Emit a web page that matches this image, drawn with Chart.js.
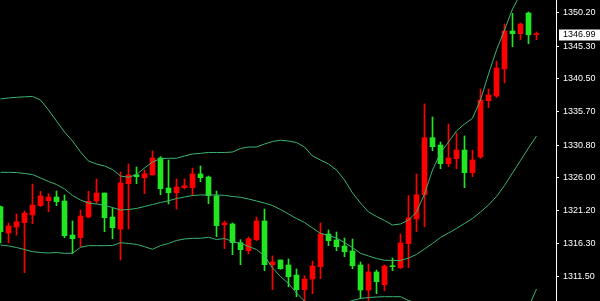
<!DOCTYPE html>
<html>
<head>
<meta charset="utf-8">
<script src="https://cdn.jsdelivr.net/npm/chart.js@4.4.1/dist/chart.umd.min.js"></script>
<style>
  html, body { margin: 0; padding: 0; background: #000; overflow: hidden; }
  #chart { display: block; background: #000; }
</style>
</head>
<body>
<canvas id="chart" width="600" height="301"></canvas>
<script>
// Valores OHLC, una vela por posición
const opens  = [1318.10,1318.93,1319.56,1320.84,1322.01,1323.33,1323.18,1322.49,1317.51,1317.07,
                1320.40,1322.55,1323.77,1320.15,1318.68,1325.24,1326.41,1326.16,1326.60,1328.90,
                1324.40,1323.81,1324.65,1324.84,1326.56,1326.01,1323.37,1318.98,1319.37,1316.49,
                1315.46,1317.07,1319.67,1313.26,1313.66,1312.67,1311.50,1309.60,1311.16,1313.07,
                1317.80,1316.78,1315.90,1315.17,1313.11,1309.55,1312.19,1310.77,1313.07,1312.97,
                1316.44,1320.11,1323.52,1331.88,1330.56,1328.07,1328.90,1330.07,1326.75,1328.61,
                1337.40,1338.14,1342.09,1347.52,1347.12,1348.54,1346.97,1347.12];
const highs  = [1321.87,1319.37,1320.69,1321.13,1325.09,1324.02,1323.67,1324.06,1323.48,1319.67,
                1321.28,1324.02,1325.82,1323.77,1321.57,1326.85,1328.02,1327.58,1327.14,1329.93,
                1329.09,1328.61,1325.82,1325.82,1327.43,1327.73,1326.26,1324.06,1319.67,1319.37,
                1316.93,1317.32,1320.25,1321.42,1314.54,1313.95,1314.10,1312.63,1311.65,1313.80,
                1319.37,1318.35,1318.05,1317.17,1317.03,1313.66,1313.36,1312.48,1313.22,1314.24,
                1317.76,1323.37,1326.56,1336.82,1334.91,1331.25,1333.88,1332.57,1332.13,1330.07,
                1339.01,1339.01,1343.07,1348.54,1350.11,1348.69,1350.30,1347.37];
const lows   = [1316.44,1316.49,1317.61,1312.09,1319.27,1321.80,1321.03,1321.91,1317.22,1314.93,
                1315.90,1320.15,1322.26,1318.10,1317.07,1313.95,1318.49,1325.13,1323.67,1326.41,
                1323.52,1322.16,1321.42,1324.36,1323.37,1325.43,1322.20,1317.37,1315.61,1314.73,
                1313.26,1314.87,1316.78,1312.38,1309.60,1312.59,1310.04,1308.57,1307.70,1309.01,
                1311.21,1316.05,1315.31,1314.43,1312.67,1308.28,1307.80,1309.01,1309.45,1312.38,
                1312.70,1312.82,1318.10,1318.83,1329.97,1327.33,1327.63,1327.33,1324.55,1326.16,
                1328.86,1336.27,1337.74,1339.89,1345.21,1346.24,1345.65,1346.24];
const closes = [1321.76,1317.91,1318.79,1319.42,1320.55,1321.91,1322.64,1323.18,1322.60,1317.61,
                1317.22,1320.25,1322.60,1323.77,1320.25,1318.49,1325.13,1326.45,1326.01,1326.41,
                1328.90,1324.50,1323.81,1324.55,1324.55,1326.56,1326.12,1323.37,1319.12,1319.23,
                1316.49,1315.31,1316.93,1319.67,1313.26,1313.95,1313.22,1311.75,1309.60,1311.16,
                1312.97,1317.76,1316.88,1316.00,1315.27,1313.22,1309.55,1312.19,1310.33,1313.11,
                1312.82,1316.34,1319.96,1323.52,1331.88,1330.81,1328.07,1328.80,1330.07,1326.75,
                1329.05,1337.30,1337.99,1341.95,1347.52,1347.12,1350.15,1346.99];

// Bandas de Bollinger (superior, media, inferior)
const upperBand = [1337.55,1337.70,1337.80,1337.87,1337.92,1337.40,1335.94,1334.32,1332.71,1331.39,
                   1329.78,1328.46,1328.02,1327.73,1327.21,1326.26,1326.07,1326.48,1327.43,1328.31,
                   1328.80,1328.86,1328.86,1329.19,1329.49,1329.59,1329.71,1329.71,1329.71,1329.78,
                   1330.29,1330.51,1330.51,1330.95,1331.32,1331.50,1331.39,1331.17,1330.51,1329.19,
                   1328.61,1328.02,1327.14,1325.68,1323.77,1322.30,1320.99,1320.33,1319.74,1319.08,
                   1319.23,1319.81,1320.99,1323.62,1327.14,1329.63,1331.25,1332.86,1333.88,1334.72,
                   1337.40,1341.21,1344.73,1347.66,1350.74,1352.94,1356.16,1359.39];
const middleBand = [1326.80,1326.80,1326.77,1326.63,1326.48,1325.97,1325.46,1325.02,1324.36,1323.40,
                    1322.74,1322.30,1322.16,1321.97,1321.64,1321.28,1321.35,1321.50,1321.79,1322.08,
                    1322.38,1322.63,1322.96,1323.18,1323.40,1323.48,1323.48,1323.48,1323.43,1323.26,
                    1323.14,1322.89,1322.60,1322.30,1321.94,1321.35,1320.69,1320.03,1319.45,1318.64,
                    1317.86,1317.54,1317.17,1316.51,1315.78,1314.93,1314.54,1314.17,1313.91,1313.88,
                    1313.88,1314.24,1314.76,1315.56,1316.37,1317.25,1317.91,1318.57,1319.30,1320.03,
                    1320.99,1322.01,1323.26,1324.87,1326.70,1328.53,1330.37,1332.13];
const lowerBand = [1316.15,1316.00,1315.78,1315.49,1315.17,1315.05,1314.98,1315.05,1314.93,1314.93,
                   1315.81,1316.05,1316.05,1316.05,1316.07,1316.49,1316.37,1316.25,1315.90,1315.52,
                   1316.07,1316.37,1316.81,1317.03,1317.13,1317.13,1317.28,1316.95,1317.10,1316.66,
                   1316.40,1315.93,1315.49,1314.54,1312.78,1311.53,1310.51,1309.11,1307.94,1307.65,
                   1307.50,1307.35,1307.35,1307.65,1308.01,1308.31,1308.45,1308.53,1308.57,1308.57,
                   1308.57,1308.01,1307.65,1307.21,1306.77,1306.33,1306.04,1305.74,1305.59,1305.45,
                   1305.45,1305.45,1305.59,1305.89,1306.04,1306.47,1307.06,1309.70];

// Etiquetas del eje de precios
const yTicks = [1350.20, 1345.30, 1340.50, 1335.70, 1330.80, 1326.00, 1321.20, 1316.30, 1311.50];
const lastPrice = 1346.99;

const UP = '#22e622';
const DOWN = '#ff0000';
const BAND = '#3cb371';
const FONT = 'Liberation Sans';

const candleColors = opens.map((o, i) => closes[i] >= o ? UP : DOWN);

// Cuadro blanco con el último precio sobre el eje
const lastPricePlugin = {
    id: 'lastPrice',
    afterDraw(chart) {
        const ctx = chart.ctx;
        const y = chart.scales.y.getPixelForValue(lastPrice);
        const x0 = chart.chartArea.right + 3;
        ctx.save();
        ctx.fillStyle = '#ffffff';
        ctx.fillRect(x0, Math.round(y) - 5.5, 600 - x0, 11);
        ctx.fillStyle = '#000000';
        ctx.font = '9px "' + FONT + '"';
        ctx.textBaseline = 'middle';
        ctx.textAlign = 'left';
        ctx.fillText(lastPrice.toFixed(2), chart.chartArea.right + 7, y);
        ctx.restore();
    }
};

const barCommon = { grouped: false, borderWidth: 0, borderSkipped: false };

new Chart(document.getElementById('chart'), {
    data: {
        datasets: [
            {
                type: 'line', label: 'upper', order: 0,
                data: upperBand.map((v, i) => ({ x: i, y: v })),
                borderColor: BAND, borderWidth: 1, pointRadius: 0, tension: 0, fill: false
            },
            {
                type: 'line', label: 'middle', order: 0,
                data: middleBand.map((v, i) => ({ x: i, y: v })),
                borderColor: BAND, borderWidth: 1, pointRadius: 0, tension: 0, fill: false
            },
            {
                type: 'line', label: 'lower', order: 0,
                data: lowerBand.map((v, i) => ({ x: i, y: v })),
                borderColor: BAND, borderWidth: 1, pointRadius: 0, tension: 0, fill: false
            },
            {
                type: 'bar', label: 'body', order: 1, ...barCommon,
                data: opens.map((o, i) => ({ x: i, y: [o, closes[i]] })),
                backgroundColor: candleColors, barThickness: 5, minBarLength: 1
            },
            {
                type: 'bar', label: 'wick', order: 2, ...barCommon,
                data: lows.map((l, i) => ({ x: i, y: [l, highs[i]] })),
                backgroundColor: candleColors, barThickness: 1
            }
        ]
    },
    options: {
        responsive: false,
        maintainAspectRatio: false,
        animation: false,
        layout: { padding: 0 },
        plugins: { legend: { display: false }, tooltip: { enabled: false } },
        scales: {
            x: {
                type: 'linear',
                display: false,
                offset: false,
                grid: { offset: false },
                bounds: 'ticks',
                min: -0.0625,
                max: 69.4375
            },
            y: {
                position: 'right',
                min: 1307.94,
                max: 1352.06,
                afterBuildTicks: scale => {
                    scale.ticks = yTicks.map(v => ({ value: v }));
                },
                afterFit: scale => {
                    scale.width = 44;
                    scale.paddingTop = 0;
                    scale.paddingBottom = 0;
                },
                border: { display: true, color: '#ffffff', width: 1 },
                grid: { drawOnChartArea: false, drawTicks: true, tickLength: 3, color: '#ffffff' },
                ticks: {
                    color: '#ffffff',
                    padding: 4,
                    autoSkip: false,
                    font: { family: FONT, size: 9 },
                    callback: v => Number(v).toFixed(2)
                }
            }
        }
    },
    plugins: [lastPricePlugin]
});
</script>
</body>
</html>
